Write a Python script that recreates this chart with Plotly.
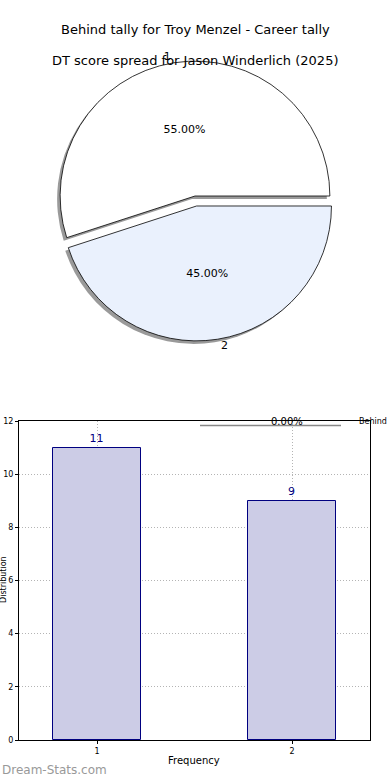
import plotly.graph_objects as go

# ---- data ----
pie_labels = ["1", "2"]
pie_values = [11, 9]
pie_colors = ["#ffffff", "#eaf1fd"]

bar_categories = [1, 2]
bar_values = [11, 9]
y_ticks = [0, 2, 4, 6, 8, 10, 12]

title_top = "Behind tally for Troy Menzel - Career tally"
title_pie = "DT score spread for Jason Winderlich (2025)"
x_title = "Frequency"
y_title = "Distribution"
watermark = "Dream-Stats.com"

W, H = 390, 780
FONT = "DejaVu Sans"

def px_x(p):
    return p / W

def px_y(p):
    return 1 - p / H

# pie domain (center ~ (195,196), radius ~134 with pull)
pull = [0, 0.075]
half = 145
cx, cy = 195, 196
dom_x = [px_x(cx - half), px_x(cx + half)]
dom_y = [px_y(cy + half), px_y(cy - half)]
sh = 3
dom_x_sh = [px_x(cx - half - sh), px_x(cx + half - sh)]
dom_y_sh = [px_y(cy + half + sh), px_y(cy - half + sh)]

pie_common = dict(labels=pie_labels, values=pie_values, sort=False,
                  direction="clockwise", rotation=252, pull=pull)

fig = go.Figure()

# shadow
fig.add_trace(go.Pie(
    **pie_common, domain=dict(x=dom_x_sh, y=dom_y_sh),
    marker=dict(colors=["#9a9a9a", "#9a9a9a"], line=dict(width=0)),
    textinfo="none", hoverinfo="skip", showlegend=False,
))
# main pie with percentages inside
fig.add_trace(go.Pie(
    **pie_common, domain=dict(x=dom_x, y=dom_y),
    marker=dict(colors=pie_colors, line=dict(color="#000000", width=0.8)),
    texttemplate="%{percent:.2%}", textposition="inside", insidetextorientation="horizontal",
    textfont=dict(family=FONT, size=11, color="#000000"),
    showlegend=False,
))
# outside labels
fig.add_trace(go.Pie(
    **pie_common, domain=dict(x=dom_x, y=dom_y),
    marker=dict(colors=["rgba(0,0,0,0)", "rgba(0,0,0,0)"], line=dict(width=0)),
    texttemplate="%{label}", textposition="outside",
    textfont=dict(family=FONT, size=11, color="#000000"),
    hoverinfo="skip", showlegend=False,
))

# bars
fig.add_trace(go.Bar(
    x=bar_categories, y=bar_values, width=0.45,
    marker=dict(color="#ccccE6", line=dict(color="#000080", width=1)),
    text=[str(v) for v in bar_values], textposition="outside",
    textfont=dict(family=FONT, size=11, color="#000080"),
    cliponaxis=False, showlegend=False,
))

axis_common = dict(
    showline=True, linecolor="#000000", linewidth=1, mirror=True,
    showgrid=True, gridcolor="#b4b4b4", griddash="1px,2px", gridwidth=1,
    ticks="outside", ticklen=3, tickcolor="#000000", automargin=False,
    tickfont=dict(family=FONT, size=8, color="#000000"), zeroline=False,
)

fig.update_layout(
    width=W, height=H, margin=dict(l=0, r=0, t=0, b=0),
    paper_bgcolor="#ffffff", plot_bgcolor="#ffffff",
    font=dict(family=FONT, color="#000000"),
    bargap=0,
    xaxis=dict(domain=[px_x(19), px_x(370)], range=[0.6, 2.4],
               tickvals=bar_categories, ticktext=[str(c) for c in bar_categories],
               **axis_common),
    yaxis=dict(domain=[px_y(740), px_y(421)], range=[0, 12], tickvals=y_ticks,
               **axis_common),
    annotations=[
        dict(text=title_top, x=0.5, y=px_y(30), xref="paper", yref="paper",
             showarrow=False, font=dict(family=FONT, size=13), xanchor="center", yanchor="middle"),
        dict(text=title_pie, x=0.5, y=px_y(61), xref="paper", yref="paper",
             showarrow=False, font=dict(family=FONT, size=13), xanchor="center", yanchor="middle"),
        dict(text=x_title, x=px_x(194), y=px_y(760), xref="paper", yref="paper",
             showarrow=False, font=dict(family=FONT, size=10), xanchor="center", yanchor="middle"),
        dict(text=y_title, x=px_x(3), y=px_y(580), xref="paper", yref="paper", textangle=-90,
             showarrow=False, font=dict(family=FONT, size=8), xanchor="center", yanchor="middle",
             borderpad=0),
        dict(text=watermark, x=0, y=px_y(770), xref="paper", yref="paper",
             showarrow=False, font=dict(family=FONT, size=12, color="#999999"),
             xanchor="left", yanchor="middle"),
        dict(text="0.00%", x=px_x(287), y=px_y(421), xref="paper", yref="paper",
             showarrow=False, font=dict(family=FONT, size=10, color="#000000"),
             xanchor="center", yanchor="middle"),
        dict(text="Behind", x=px_x(357), y=px_y(421), xref="paper", yref="paper",
             showarrow=False, font=dict(family=FONT, size=8, color="#000000"),
             xanchor="left", yanchor="middle"),
    ],
    shapes=[
        dict(type="line", xref="paper", yref="paper", x0=px_x(203), x1=px_x(343),
             y0=px_y(420.5), y1=px_y(420.5), line=dict(color="#000000", width=1)),
        dict(type="line", xref="paper", yref="paper", x0=px_x(200), x1=px_x(341),
             y0=px_y(425.5), y1=px_y(425.5), line=dict(color="#888888", width=1.5)),
        dict(type="line", xref="paper", yref="paper", x0=px_x(343), x1=px_x(357),
             y0=px_y(420.5), y1=px_y(420.5), line=dict(color="#000000", width=1)),
    ],
)

fig.write_html(
    "out.html",
    config={"displayModeBar": False},
    post_script="document.body.style.margin='0';document.body.style.overflow='hidden';",
)
